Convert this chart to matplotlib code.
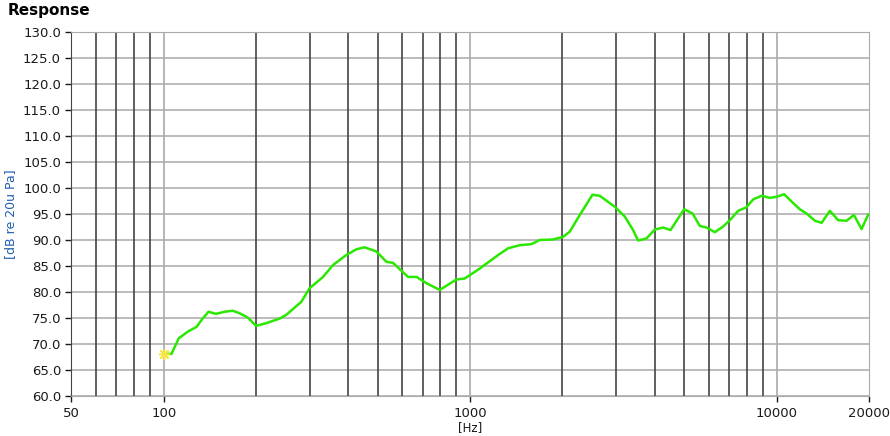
import matplotlib
matplotlib.use('Agg')
import matplotlib.pyplot as plt
import numpy as np

# 频响曲线数据 (Hz, dB)
freq = [100, 106, 112, 120, 128, 134, 140, 148, 158, 168, 177, 188, 200, 216, 239,
        251, 281, 299, 331, 357, 394, 425, 452, 494, 533, 560, 627, 668, 720, 795,
        902, 960, 1074, 1233, 1329, 1451, 1585, 1686, 1864, 2009, 2113, 2278, 2506,
        2647, 2963, 3195, 3401, 3531, 3760, 4003, 4260, 4504, 4989, 5316, 5614, 5905,
        6284, 6690, 7034, 7486, 7975, 8379, 8927, 9500, 9988, 10578, 11186, 11908,
        12520, 13330, 14018, 14916, 15878, 16912, 17871, 18931, 19894]
spl = [68.1, 68.1, 71.1, 72.4, 73.3, 74.9, 76.2, 75.8, 76.2, 76.4, 75.9, 75.1, 73.5,
       74.0, 74.9, 75.6, 78.1, 80.7, 82.9, 85.2, 87.1, 88.2, 88.6, 87.8, 85.8, 85.6,
       82.9, 82.9, 81.7, 80.4, 82.4, 82.6, 84.5, 87.1, 88.4, 89.0, 89.2, 90.0, 90.1,
       90.6, 91.6, 94.8, 98.7, 98.5, 96.4, 94.5, 91.9, 89.9, 90.3, 92.0, 92.4, 91.9,
       95.9, 95.1, 92.7, 92.4, 91.5, 92.6, 93.8, 95.6, 96.3, 97.8, 98.5, 98.1, 98.3,
       98.8, 97.4, 95.9, 95.1, 93.7, 93.3, 95.6, 93.8, 93.7, 94.8, 92.1, 94.9]

x_ticks = [50, 100, 1000, 10000, 20000]
y_ticks = np.arange(60, 131, 5)
dark_grid = [60, 70, 80, 90, 200, 300, 400, 500, 600, 700, 800, 900,
             2000, 3000, 4000, 5000, 6000, 7000, 8000, 9000]
light_grid = [100, 1000, 10000]

LINE = '#2ae800'; DARK = '#444444'; LIGHT = '#aaaaaa'; TXT = '#1a1a1a'

plt.rcParams['font.family'] = 'DejaVu Sans'
fig = plt.figure(figsize=(8.9, 4.36), dpi=100)
ax = fig.add_axes([0.0803, 0.0917, 0.896, 0.835])

ax.set_xscale('log')
ax.set_xlim(50, 20000)
ax.set_ylim(60, 130)

# 网格
for y in y_ticks:
    ax.axhline(y, color=LIGHT, lw=1.1, zorder=1)
for f in dark_grid:
    ax.axvline(f, color=DARK, lw=1.2, zorder=1)
for f in light_grid:
    ax.axvline(f, color=LIGHT, lw=1.2, zorder=1)

ax.plot(freq, spl, color=LINE, lw=1.8, zorder=3)
ax.plot(freq[0], spl[0], marker=(8, 2, 0), ms=8, color='#f5e642', mew=1.1, zorder=4)

ax.set_xticks(x_ticks)
ax.set_xticklabels([str(v) for v in x_ticks])
ax.xaxis.set_minor_locator(matplotlib.ticker.NullLocator())
ax.set_yticks(y_ticks)
ax.set_yticklabels([f'{v:.1f}' for v in y_ticks])
ax.tick_params(axis='both', colors=TXT, labelsize=9.5, length=4, width=1)
ax.tick_params(axis='x', pad=4)

for s in ['top', 'right', 'bottom']:
    ax.spines[s].set_color(LIGHT)
ax.spines['left'].set_color(DARK)

ax.set_ylabel('[dB re 20u Pa]', color='#1f5fb0', fontsize=9, labelpad=4)
ax.set_xlabel('[Hz]', color=TXT, fontsize=8.5, labelpad=1)
fig.text(0.009, 0.975, 'Response', fontsize=11, fontweight='bold', va='center', ha='left')

fig.savefig('out.png', dpi=100, facecolor='white')
